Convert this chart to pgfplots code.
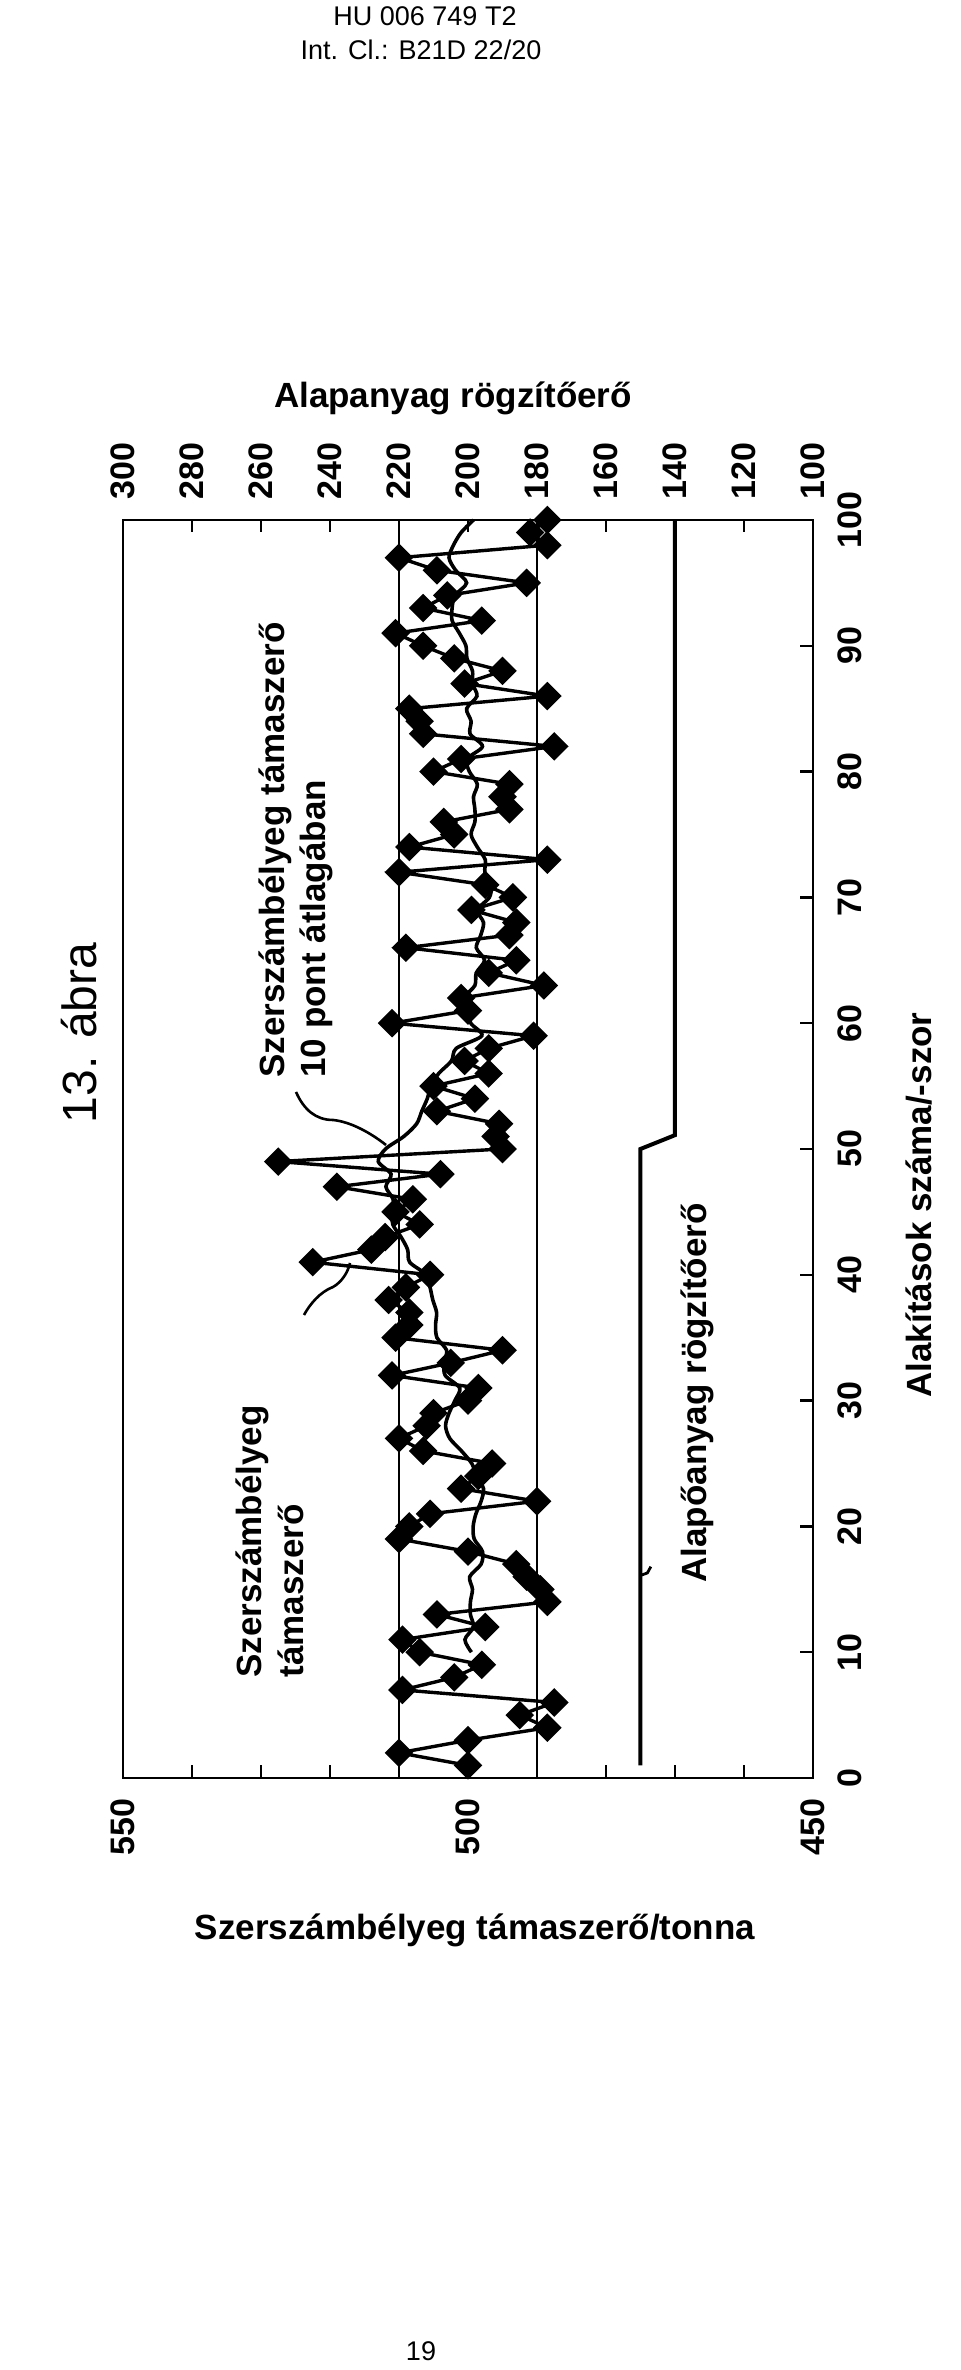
\documentclass[border=0pt]{standalone}
\usepackage{fontspec}
\setmainfont{Liberation Sans}
\usepackage{pgfplots}
\pgfplotsset{compat=1.18}
\newcommand\lbl{\bfseries\fontsize{17.5}{21}\selectfont}
\newcommand\tck{\bfseries\fontsize{17}{17}\selectfont}
\begin{document}
\begin{tikzpicture}
\path[use as bounding box] (0pt,0pt) rectangle (480pt,1185pt);
% main axis: Szerszambelyeg tamaszero (x, reversed) vs cycles (y)
\begin{axis}[
  at={(61.5pt,296pt)}, anchor=south west,
  scale only axis, width=345pt, height=629pt,
  xmin=450, xmax=550, x dir=reverse,
  ymin=0, ymax=100,
  clip=false,
  axis line style={line width=1.4pt},
  tick align=inside, major tick length=6.5pt,
  tick style={line width=1.2pt, black},
  xtick={450,460,...,550},
  xticklabels={450,,,,,500,,,,,550},
  xtick pos=left,
  ytick={0,10,...,100},
  ytick pos=right, yticklabel pos=right,
  /pgf/number format/assume math mode=true,
  xticklabel style={rotate=90, anchor=east, inner sep=10pt, font=\tck},
  yticklabel style={rotate=90, anchor=north, inner sep=12pt, font=\tck},
]
\addplot[black, line width=1pt] coordinates {(510,0) (510,100)};
\addplot[black, line width=1pt] coordinates {(490,0) (490,100)};
% 10-point moving average
\addplot[black, line width=1.8pt, smooth, tension=0.5] coordinates {
(499.5,10) (500.45,11) (499.2,12) (499.65,13) (499.65,14) (499.35,15) (499.75,16) (498.1,17) (497.9,18) (499.1,19)
(499.25,20) (498.85,21) (498.1,22) (497.75,23) (498.75,24) (499.45,25) (500.95,26) (502.65,27) (503.25,28) (502.75,29)
(501.9,30) (501.2,31) (503.3,32) (503.45,33) (503.1,34) (504.5,35) (504.7,36) (504.55,37) (505.1,38) (505.5,39)
(506.05,40) (508.45,41) (508.75,42) (509.7,43) (510.9,44) (510.9,45) (510.85,46) (511.9,47) (511.15,48) (513,49)
(511.95,50) (509.3,51) (507.45,52) (506.7,53) (505.9,54) (505.35,55) (504.25,56) (502.4,57) (501.7,58) (498,59)
(499.6,60) (500,61) (500.55,62) (499,63) (498.8,64) (497.6,65) (498.8,66) (498.15,67) (497.75,68) (498.65,69)
(496.9,70) (496.65,71) (497.55,72) (497.5,73) (498.65,74) (499.55,75) (499,76) (499,77) (499.2,78) (498.65,79)
(499.8,80) (500.15,81) (497.9,82) (499.7,83) (499.55,84) (500.2,85) (498.7,86) (499.35,87) (499.35,88) (500.15,89)
(500.3,90) (501.25,91) (502.3,92) (502.3,93) (501.9,94) (500.2,95) (501.8,96) (502.75,97) (502.1,98) (501,99)
(499.2,100)};
% measured support force
\addplot[black, line width=1.7pt, mark=square*, mark size=4.2pt, mark options={rotate=45, solid}] coordinates {
(500,1) (510,2) (500,3) (488.5,4) (492.5,5) (487.5,6) (509.5,7) (502,8) (498,9) (507,10)
(509.5,11) (497.5,12) (504.5,13) (488.5,14) (489.5,15) (491.5,16) (493,17) (500,18) (510,19) (508.5,20)
(505.5,21) (490,22) (501,23) (498.5,24) (496.5,25) (506.5,26) (510,27) (506,28) (505,29) (500,30)
(498.5,31) (511,32) (502.5,33) (495,34) (510.5,35) (508.5,36) (508.5,37) (511.5,38) (509,39) (505.5,40)
(522.5,41) (514,42) (512,43) (507,44) (510.5,45) (508,46) (519,47) (504,48) (527.5,49) (495,50)
(496,51) (495.5,52) (504.5,53) (499,54) (505,55) (497,56) (500.5,57) (497,58) (490.5,59) (511,60)
(500,61) (501,62) (489,63) (497,64) (493,65) (509,66) (494,67) (493,68) (499.5,69) (493.5,70)
(497.5,71) (510,72) (488.5,73) (508.5,74) (502,75) (503.5,76) (494,77) (495,78) (494,79) (505,80)
(501,81) (487.5,82) (506.5,83) (507,84) (508.5,85) (488.5,86) (500.5,87) (495,88) (502,89) (506.5,90)
(510.5,91) (498,92) (506.5,93) (503,94) (491.5,95) (504.5,96) (510,97) (488.5,98) (491,99) (488.5,100)};
\end{axis}
% secondary axis: Alapanyag rogzitoero (top)
\begin{axis}[
  at={(61.5pt,296pt)}, anchor=south west,
  scale only axis, width=345pt, height=629pt,
  xmin=100, xmax=300, x dir=reverse,
  ymin=0, ymax=100,
  clip=false,
  axis x line*=top, axis y line=none,
  axis line style={line width=1.4pt},
  tick align=inside, major tick length=6pt,
  tick style={line width=1.2pt, black},
  xtick={100,120,...,300},
  /pgf/number format/assume math mode=true,
  xticklabel style={rotate=90, anchor=west, inner sep=10pt, font=\tck},
]
\addplot[black, line width=2pt] coordinates {(150,1) (150,50) (140,51.1) (140,100)};
\addplot[black, line width=1.4pt] coordinates {(150,16.1) (148,16.3) (147,16.8)};
\end{axis}
% leaders
\draw[line width=1.3pt] (148pt,639pt) .. controls (152pt,630pt) and (158pt,625pt) .. (166.5pt,625pt) .. controls (176pt,624pt) and (186pt,618pt) .. (193pt,612.5pt);
\draw[line width=1.3pt] (152pt,527.5pt) .. controls (155pt,533pt) and (160pt,539pt) .. (166.5pt,541.5pt) .. controls (171pt,544pt) and (174pt,549pt) .. (175pt,553.5pt);
% annotations
\node[rotate=90, anchor=west, inner sep=0pt, font=\lbl] at (137.5pt,646pt) {Szerszámbélyeg támaszerő};
\node[rotate=90, anchor=west, inner sep=0pt, font=\lbl] at (158pt,646pt) {10 pont átlagában};
\node[rotate=90, anchor=west, inner sep=0pt, font=\lbl] at (126pt,346pt) {Szerszámbélyeg};
\node[rotate=90, anchor=west, inner sep=0pt, font=\lbl] at (145.5pt,346pt) {támaszerő};
\node[rotate=90, anchor=west, inner sep=0pt, font=\lbl] at (348.5pt,393.5pt) {Alapőanyag rögzítőerő};
% titles
\node[font=\lbl] at (226.5pt,986pt) {Alapanyag rögzítőerő};
\node[font=\lbl] at (237.5pt,220pt) {Szerszámbélyeg támaszerő/tonna};
\node[rotate=90, font=\lbl] at (459.5pt,582.5pt) {Alakítások száma/-szor};
% page texts
\node[font=\fontsize{13.5}{16}\selectfont] at (212.5pt,1177pt) {HU 006 749 T2};
\node[font=\fontsize{13.5}{16}\selectfont] at (210.5pt,1160pt) {Int. Cl.: B21D 22/20};
\node[font=\fontsize{13.5}{16}\selectfont] at (210.5pt,9.5pt) {19};
\node[rotate=90, font=\fontsize{24}{28}\selectfont] at (39.5pt,668.5pt) {13. ábra};
\end{tikzpicture}
\end{document}
